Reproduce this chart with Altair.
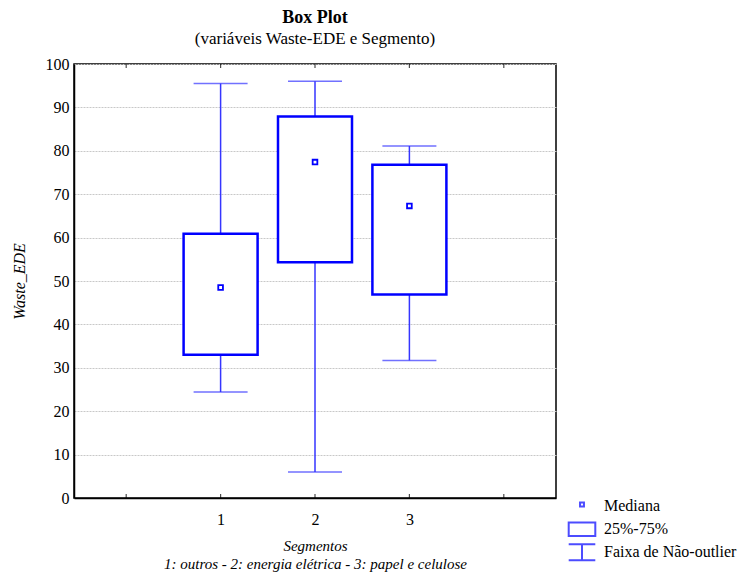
import altair as alt
import pandas as pd

# ---- data ----
segments = [1, 2, 3]
whisker_low = [24.4, 6.0, 31.7]
q1 = [33.0, 54.3, 46.9]
median = [48.5, 77.4, 67.3]
q3 = [60.9, 87.9, 76.8]
whisker_high = [95.5, 96.0, 81.1]

x_tick_values = [0, 1, 2, 3, 4]
x_label_values = [1, 2, 3]
y_tick_values = [0, 10, 20, 30, 40, 50, 60, 70, 80, 90, 100]

legend_items = ["Mediana", "25%-75%", "Faixa de Não-outlier"]
legend_shapes = [
    "M-0.14,-0.26H0.14V0.02H-0.14Z",
    "M-0.95,-0.48H0.95V0.48H-0.95Z",
    "M-0.95,-0.57H0.95M0,-0.57V0.57M-0.95,0.57H0.95",
]

df = pd.DataFrame({
    "seg": segments, "lo": whisker_low, "q1": q1,
    "med": median, "q3": q3, "hi": whisker_high,
})
ticks_df = pd.DataFrame({"seg": x_tick_values})
legend_df = pd.DataFrame({"item": legend_items})

FONT = "Liberation Serif"
BLUE = "#0000ff"
WHISK = "#3535ff"

xscale = alt.Scale(domain=[-0.5, 4.5], nice=False, zero=False)
yscale = alt.Scale(domain=[0, 100], nice=False, zero=False)

x_axis = alt.Axis(
    values=x_label_values, ticks=False, grid=False, domain=True,
    labelFont=FONT, labelFontSize=16, labelColor="black", labelPadding=13,
    title=["Segmentos", "1: outros - 2: energia elétrica - 3: papel e celulose"],
    titleFont=FONT, titleFontSize=15, titleFontStyle="italic", titleFontWeight="normal",
    titleColor="black", titlePadding=11, titleLineHeight=18,
)
y_axis = alt.Axis(
    values=y_tick_values, ticks=False, grid=True, domain=True,
    gridColor="#c8c8c8", gridDash=[2, 1], gridWidth=1,
    labelFont=FONT, labelFontSize=16, labelColor="black", labelPadding=5,
    title="Waste_EDE", titleFont=FONT, titleFontSize=16, titleFontStyle="italic",
    titleFontWeight="normal", titleColor="black", titlePadding=18,
)

X = lambda f: alt.X(f, type="quantitative", scale=xscale, axis=x_axis)
Y = lambda f: alt.Y(f, type="quantitative", scale=yscale, axis=y_axis)

base = alt.Chart(df)

whiskers = base.mark_rule(color=WHISK, strokeWidth=1.5).encode(
    x=X("seg"), y=Y("lo"), y2="hi"
)
cap_low = base.mark_tick(orient="horizontal", size=54, thickness=1.5, color=WHISK).encode(
    x=X("seg"), y=Y("lo")
)
cap_high = base.mark_tick(orient="horizontal", size=54, thickness=1.5, color=WHISK).encode(
    x=X("seg"), y=Y("hi")
)
boxes = base.mark_bar(size=74, fill="white", stroke=BLUE, strokeWidth=2.5).encode(
    x=X("seg"), y=Y("q1"), y2="q3"
)
medians = base.mark_point(shape="square", size=22, filled=False, fill="white",
                          color=BLUE, strokeWidth=1.8, opacity=1).encode(
    x=X("seg"), y=Y("med")
)

bottom_ticks = alt.Chart(ticks_df).mark_tick(
    orient="vertical", size=4, thickness=1.2, color="black", yOffset=-2
).encode(x=X("seg"), y=alt.Y(datum=0, type="quantitative", scale=yscale, axis=y_axis))
top_ticks = alt.Chart(ticks_df).mark_tick(
    orient="vertical", size=4, thickness=1.2, color="black", yOffset=2
).encode(x=X("seg"), y=alt.Y(datum=100, type="quantitative", scale=yscale, axis=y_axis))

legend_layer = alt.Chart(legend_df).transform_filter("false").mark_point(
    filled=False, color=BLUE, strokeWidth=2
).encode(
    shape=alt.Shape(
        "item:N",
        scale=alt.Scale(domain=legend_items, range=legend_shapes),
        legend=alt.Legend(
            orient="none", legendX=493, legendY=431, title=None,
            labelFont=FONT, labelFontSize=16, labelColor="black",
            labelOffset=7, symbolSize=784, symbolStrokeWidth=2,
            symbolStrokeColor=BLUE, symbolFillColor="white",
            rowPadding=0, padding=0, labelLimit=300, clipHeight=22.5,
        ),
    )
)

chart = alt.layer(
    whiskers, cap_low, cap_high, boxes, medians, bottom_ticks, top_ticks, legend_layer
).properties(
    width=482, height=434,
    autosize=alt.AutoSizeParams(type="none"),
    padding={"left": 66, "top": 56, "right": 186, "bottom": 74},
    title=alt.TitleParams(
        "Box Plot",
        subtitle="(variáveis Waste-EDE e Segmento)",
        font=FONT, fontSize=18, fontWeight="bold", color="black",
        subtitleFont=FONT, subtitleFontSize=17, subtitleColor="black",
        anchor="middle", offset=9, subtitlePadding=4,
    ),
).configure(
    font=FONT
).configure_view(
    stroke="black", strokeWidth=1.5
).configure_axis(
    domainColor="black", domainWidth=1.5,
    labelFont=FONT, titleFont=FONT
).configure_legend(
    labelFont=FONT
)

chart.save("out.html", embed_options={"renderer": "svg", "actions": False})
